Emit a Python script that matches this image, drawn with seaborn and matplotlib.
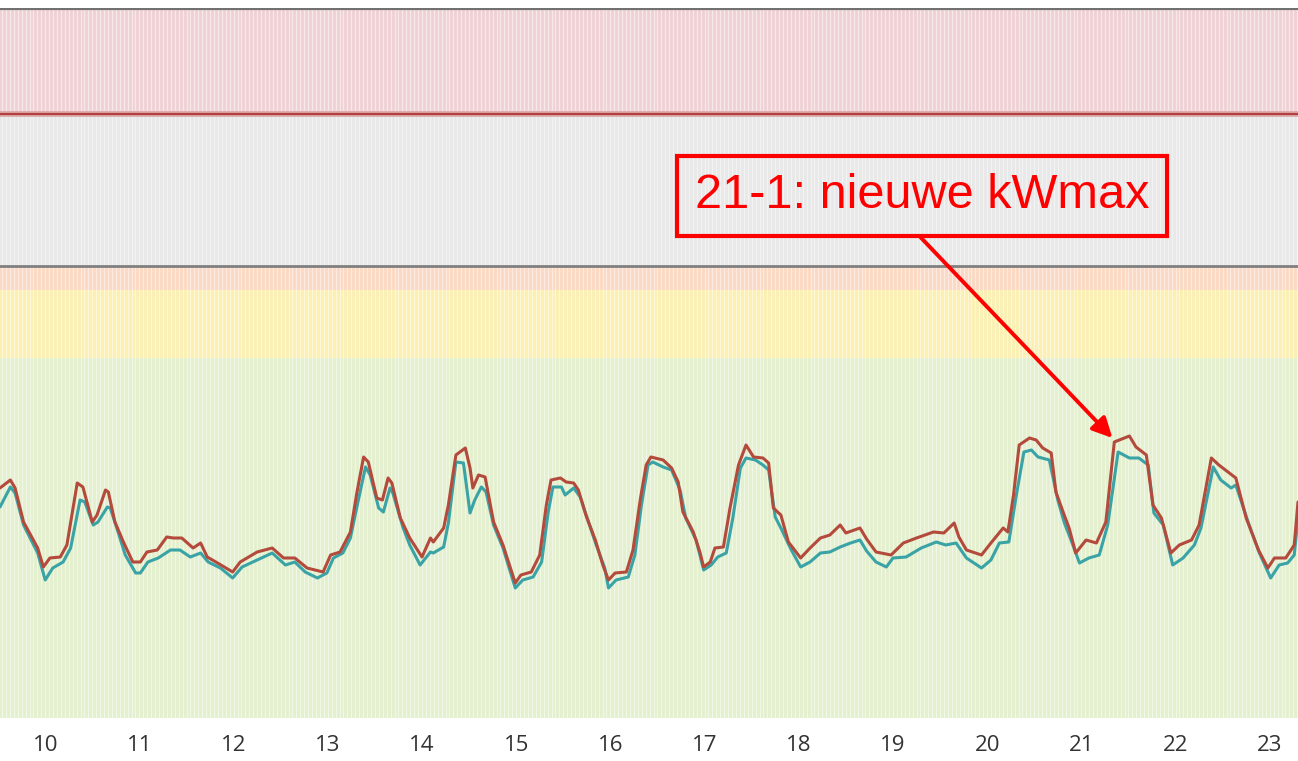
import numpy as np
import pandas as pd
import seaborn as sns
import matplotlib
matplotlib.use("Agg")
import matplotlib.pyplot as plt

# kW-profiel, dag van januari (fractie) tegen vermogen
rood_dag = [9.52, 9.63, 9.68, 9.77, 9.92, 9.98, 10.05, 10.16, 10.23, 10.34, 10.40, 10.50, 10.55, 10.64,
            10.67, 10.74, 10.83, 10.93, 11.01, 11.08, 11.19, 11.29, 11.36, 11.45, 11.57, 11.65, 11.72,
            11.83, 11.99, 12.07, 12.25, 12.41, 12.53, 12.65, 12.78, 12.95, 13.03, 13.13, 13.24, 13.31,
            13.38, 13.43, 13.52, 13.58, 13.64, 13.68, 13.77, 13.87, 14.00, 14.09, 14.12, 14.23, 14.28,
            14.36, 14.46, 14.51, 14.54, 14.60, 14.67, 14.76, 14.86, 14.99, 15.05, 15.16, 15.25, 15.32,
            15.37, 15.47, 15.53, 15.61, 15.66, 15.74, 15.84, 15.92, 15.98, 16.05, 16.17, 16.24, 16.32,
            16.38, 16.43, 16.56, 16.65, 16.72, 16.77, 16.88, 16.95, 16.99, 17.06, 17.11, 17.20, 17.27,
            17.36, 17.44, 17.52, 17.62, 17.68, 17.73, 17.81, 17.89, 18.02, 18.12, 18.23, 18.33, 18.44,
            18.50, 18.65, 18.72, 18.82, 18.98, 19.11, 19.25, 19.43, 19.54, 19.65, 19.70, 19.78, 19.94,
            20.04, 20.17, 20.22, 20.28, 20.34, 20.45, 20.52, 20.59, 20.68, 20.73, 20.81, 20.87, 20.94,
            21.05, 21.16, 21.26, 21.35, 21.51, 21.58, 21.69, 21.76, 21.85, 21.95, 22.04, 22.17, 22.25,
            22.38, 22.46, 22.57, 22.64, 22.75, 22.88, 22.98, 23.05, 23.17, 23.26, 23.30]
rood_kw = [115, 119, 115, 98, 85, 75.5, 80, 80.5, 86.5, 117.5, 115.5, 98, 101.5, 114,
           113, 98, 88, 78, 78, 83, 84, 90.5, 90, 90, 85, 87.5, 80.5,
           77.5, 73, 78, 83, 85, 80, 80, 75, 73, 81.5, 83, 93, 113,
           130.5, 128, 110, 109, 120, 117.5, 100, 90, 80.5, 90, 88, 95, 106.5,
           131.5, 135, 125, 115, 121.5, 120.5, 98, 86.5, 67.5, 71.5, 73, 81.5, 106.5,
           119, 120, 118, 117.5, 114, 101.5, 89, 76.5, 69, 72.5, 73, 84, 110,
           126.5, 130.5, 129, 125, 118, 103, 93, 83, 75.5, 78, 85, 85.5, 105,
           126.5, 136.5, 130.5, 130, 127.5, 105, 101.5, 88, 80, 85, 90, 91.5, 96.5,
           92.5, 95, 89.5, 83, 81.5, 87.5, 90, 93, 92.5, 97.5, 90.5, 84, 81.5,
           87.5, 95, 93, 111.5, 136.5, 140, 139, 135, 132.5, 113, 102.5, 95, 82.5,
           89, 87.5, 98, 138, 141, 135.5, 131.5, 106.5, 100, 82.5, 86.5, 89, 96.5,
           130, 126.5, 122.5, 120, 100, 84, 75, 80, 80, 86.5, 108]

teal_dag = [9.52, 9.63, 9.68, 9.77, 9.92, 10.00, 10.08, 10.19, 10.27, 10.37, 10.42, 10.51, 10.56, 10.66,
            10.69, 10.76, 10.85, 10.96, 11.01, 11.09, 11.20, 11.33, 11.43, 11.54, 11.65, 11.73, 11.86,
            11.99, 12.09, 12.25, 12.41, 12.55, 12.65, 12.76, 12.89, 12.99, 13.06, 13.16, 13.24, 13.32,
            13.40, 13.45, 13.54, 13.59, 13.66, 13.69, 13.80, 13.87, 13.98, 14.09, 14.12, 14.23, 14.28,
            14.36, 14.44, 14.51, 14.56, 14.63, 14.68, 14.76, 14.86, 14.99, 15.07, 15.18, 15.27, 15.34,
            15.39, 15.48, 15.52, 15.61, 15.68, 15.76, 15.85, 15.94, 15.98, 16.06, 16.19, 16.26, 16.33,
            16.40, 16.45, 16.56, 16.65, 16.74, 16.80, 16.91, 16.99, 17.07, 17.14, 17.23, 17.30, 17.38,
            17.44, 17.54, 17.62, 17.68, 17.75, 17.81, 17.91, 18.02, 18.12, 18.23, 18.33, 18.44, 18.55,
            18.65, 18.72, 18.82, 18.93, 19.00, 19.14, 19.30, 19.46, 19.56, 19.67, 19.78, 19.94, 20.04,
            20.13, 20.23, 20.31, 20.39, 20.47, 20.54, 20.66, 20.75, 20.82, 20.89, 20.98, 21.08, 21.19,
            21.28, 21.39, 21.51, 21.61, 21.71, 21.77, 21.87, 21.97, 22.08, 22.20, 22.27, 22.40, 22.48,
            22.59, 22.64, 22.77, 22.89, 23.01, 23.10, 23.19, 23.26, 23.30]
teal_kw = [105.5, 115.5, 112.5, 96.5, 82.5, 69, 75, 78, 85, 109, 108, 96.5, 98, 105.5,
           105, 95, 81.5, 72.5, 72.5, 78, 80, 84, 84, 80.5, 82.5, 78, 75,
           70, 75.5, 79, 82.5, 76.5, 78, 73, 70, 72.5, 80, 82.5, 90, 108,
           125.5, 121.5, 105, 103, 115, 112.5, 95, 86.5, 76.5, 83, 82.5, 85.5, 97.5,
           128, 127.5, 102.5, 109, 115.5, 113, 96.5, 85, 65, 69, 70.5, 78, 103,
           115.5, 115.5, 111.5, 115, 110.5, 99, 86.5, 75, 65, 69, 70.5, 81.5, 106.5,
           126.5, 128, 125.5, 124, 114, 100, 89, 74, 76.5, 80.5, 82.5, 100, 125,
           130, 129, 126.5, 124, 100.5, 95, 85, 75.5, 78, 82.5, 83, 85.5, 87.5,
           89, 83.5, 78, 75.5, 80, 80.5, 85, 88, 86.5, 87.5, 80, 75, 79,
           87.5, 88, 111.5, 133, 134, 130.5, 129, 109, 97.5, 89, 77.5, 80, 81.5,
           96.5, 133, 130, 130, 126.5, 102.5, 96.5, 76.5, 80, 86.5, 95, 125.5, 119,
           115, 116.5, 98, 82.5, 70, 76.5, 77.5, 81.5, 100]

# zones (kW)
zone_grenzen = [0, 180, 214, 226, 302, 355]
zone_kleuren = ["#e4efcd", "#fbefb2", "#fbd8c3", "#e8e8e8", "#efd1d5"]
dagen = list(range(10, 24))

df = pd.concat([
    pd.DataFrame({"dag": rood_dag, "kW": rood_kw, "reeks": "a"}),
    pd.DataFrame({"dag": teal_dag, "kW": teal_kw, "reeks": "b"}),
])

sns.set_theme(style="white")
plt.rcParams["font.family"] = ["Open Sans", "DejaVu Sans"]

fig = plt.figure(figsize=(12.98, 7.61), dpi=100)
ax = fig.add_axes([0, 0.0565, 1, 0.9330])

for lo, hi, c in zip(zone_grenzen[:-1], zone_grenzen[1:], zone_kleuren):
    ax.axhspan(lo, hi, color=c, lw=0, zorder=0)

# fijne verticale streepjes zoals de staafjes in het origineel
ax.vlines(np.arange(9.5, 23.35, 1 / 24), 0, zone_grenzen[-1], color="white",
          lw=0.9, alpha=0.5, zorder=1)

ax.axhline(zone_grenzen[3], color="#808080", lw=2, zorder=2)
ax.axhline(zone_grenzen[4], color="#d9a0a0", lw=4, zorder=2)
ax.axhline(zone_grenzen[4], color="#b03535", lw=1.3, zorder=2)
ax.axhline(zone_grenzen[5], color="#707070", lw=3, zorder=2)

sns.lineplot(data=df, x="dag", y="kW", hue="reeks", palette={"a": "#b34a3c", "b": "#3aa3a6"},
             hue_order=["b", "a"], lw=2.2, legend=False, ax=ax, zorder=3)

ax.set_xlim(9.52, 23.30)
ax.set_ylim(0, 355)
ax.set_xticks(dagen)
ax.set_xticklabels([str(d) for d in dagen])
ax.set_yticks([])
ax.set_xlabel("")
ax.set_ylabel("")
ax.tick_params(axis="x", length=0, pad=12, labelsize=16, labelcolor="#333333")
for s in ax.spines.values():
    s.set_visible(False)

ax.text(19.31, 261, "21-1: nieuwe kWmax", color="#ff0000", fontsize=35,
        family=["Liberation Sans", "DejaVu Sans"], ha="center", va="center", zorder=5,
        bbox=dict(boxstyle="square,pad=0.36", fc="none", ec="#ff0000", lw=3))
ax.annotate("", xy=(21.33, 140), xytext=(19.29, 240.5), zorder=5,
            arrowprops=dict(arrowstyle="-|>,head_length=1.0,head_width=0.5", color="#ff0000",
                            lw=2.8, shrinkA=0, shrinkB=0))

fig.savefig("out.png", dpi=100)
